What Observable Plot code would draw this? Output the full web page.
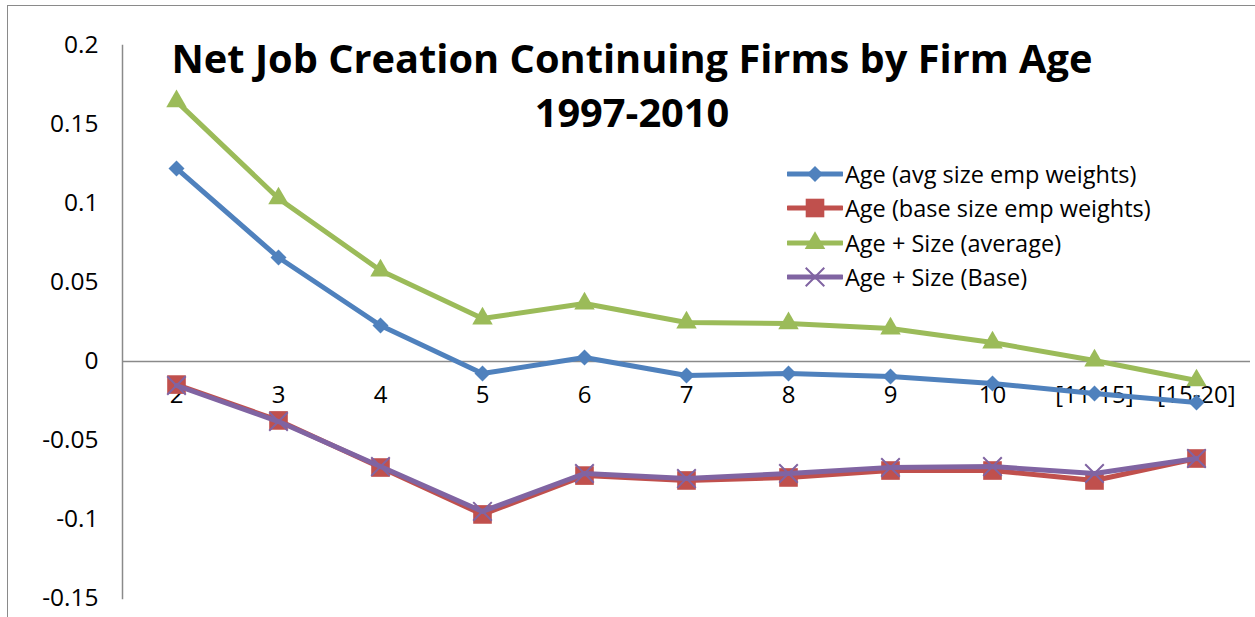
<!DOCTYPE html>
<html>
<head>
<meta charset="utf-8">
<script src="https://cdn.jsdelivr.net/npm/d3@7"></script>
<script src="https://cdn.jsdelivr.net/npm/@observablehq/plot@0.6"></script>
<style>
  html, body { margin: 0; padding: 0; background: #fff; }
  #wrap { position: relative; width: 1255px; height: 617px; overflow: hidden; font-family: "Open Sans", Lato, sans-serif; }
  #border { position: absolute; left: 7px; top: 5px; width: 1300px; height: 700px; border: 1.5px solid #8a8a8a; box-sizing: border-box; }
  #chart { position: absolute; left: 0; top: 0; }
  #title { position: absolute; left: 132px; width: 1000px; top: 31px; text-align: center; font-weight: 700; font-size: 36px; line-height: 54px; color: #000; white-space: nowrap; }
  #legend { position: absolute; left: 787px; top: 157px; }
  .row { display: flex; align-items: center; height: 34.3px; font-size: 23.5px; color: #000; }
  .row svg { margin-right: 2px; }
</style>
</head>
<body>
<div id="wrap">
  <div id="border"></div>
  <div id="chart"></div>
  <div id="title"><span id="t1">Net Job Creation Continuing Firms by Firm Age</span><br>1997-2010</div>
  <div id="legend"></div>
</div>
<script>
const categories = ["2", "3", "4", "5", "6", "7", "8", "9", "10", "[11-15]", "[15-20]"];
const seriesNames = ["Age (avg size emp weights)", "Age (base size emp weights)", "Age + Size (average)", "Age + Size (Base)"];
const ageAvg   = [0.1222, 0.0658, 0.0228, -0.0076, 0.0025, -0.0089, -0.0076, -0.0095, -0.0139, -0.0203, -0.0259];
const ageBase  = [-0.0146, -0.0373, -0.0671, -0.0968, -0.0722, -0.0753, -0.0734, -0.0690, -0.0690, -0.0753, -0.0614];
const sizeAvg  = [0.1646, 0.1032, 0.0576, 0.0272, 0.0367, 0.0247, 0.0241, 0.0209, 0.0120, 0.0006, -0.0120];
const sizeBase = [-0.0152, -0.0380, -0.0665, -0.0949, -0.0709, -0.0741, -0.0709, -0.0671, -0.0665, -0.0709, -0.0614];
const yTicks = [0.2, 0.15, 0.1, 0.05, 0, -0.05, -0.1, -0.15];
const yTickLabels = ["0.2", "0.15", "0.1", "0.05", "0", "-0.05", "-0.1", "-0.15"];

const colors = ["#4F81BD", "#C0504D", "#9BBB59", "#8064A2"];
const symbols = ["diamond2", "square", "triangle", "times"];
const radii = [7.2, 10.5, 7.6, 8.5];
const allValues = [ageAvg, ageBase, sizeAvg, sizeBase];

const rows = [];
allValues.forEach((vals, s) => vals.forEach((v, i) => rows.push({series: seriesNames[s], s, cat: categories[i], value: v})));

const marks = [
  Plot.ruleY([0], {stroke: "#8a8a8a", strokeWidth: 1.5}),
  Plot.frame({anchor: "left", stroke: "#8a8a8a", strokeWidth: 1.5}),
  Plot.axisY({ticks: yTicks, tickFormat: d => yTickLabels[yTicks.indexOf(d)], tickSize: 0, tickPadding: 24, fontSize: 24.5, label: null}),
  Plot.text(categories, {x: d => d, y: 0, dy: 34, text: d => d, fontSize: 24, fill: "#000"})
];
[0, 1, 2, 3].forEach(s => {
  const data = rows.filter(r => r.s === s);
  marks.push(Plot.line(data, {x: "cat", y: "value", stroke: colors[s], strokeWidth: 5, strokeLinejoin: "round"}));
  if (s === 3) {
    marks.push(Plot.dot(data, {x: "cat", y: "value", symbol: "times", r: radii[s], stroke: colors[s], strokeWidth: 2}));
  } else {
    marks.push(Plot.dot(data, {x: "cat", y: "value", symbol: symbols[s], r: radii[s], fill: colors[s], stroke: "none"}));
  }
});

const chart = Plot.plot({
  width: 1255,
  height: 617,
  marginLeft: 122,
  marginRight: 5,
  marginTop: 45,
  marginBottom: 19,
  style: {fontFamily: "'Open Sans', Lato, sans-serif", fontSize: "24px", color: "#000", background: "transparent"},
  x: {type: "point", domain: categories, padding: 0.5, axis: null},
  y: {domain: [-0.15, 0.2], axis: null},
  marks
});
document.getElementById("chart").appendChild(chart);

// fit title first line to the reference width (921px)
const t1 = document.getElementById("t1");
const w = t1.getBoundingClientRect().width;
if (w > 0) document.getElementById("title").style.fontSize = (36 * 921 / w).toFixed(2) + "px";

// legend
const legend = d3.select("#legend");
seriesNames.forEach((name, s) => {
  const row = legend.append("div").attr("class", "row");
  const svg = row.append("svg").attr("width", 56).attr("height", 24);
  svg.append("line").attr("x1", 1).attr("x2", 55).attr("y1", 12).attr("y2", 12)
    .attr("stroke", colors[s]).attr("stroke-width", 5).attr("stroke-linecap", "round");
  const symMap = {diamond2: d3.symbolDiamond2, square: d3.symbolSquare, triangle: d3.symbolTriangle, times: d3.symbolTimes};
  const path = d3.symbol(symMap[symbols[s]], Math.PI * radii[s] * radii[s])();
  const p = svg.append("path").attr("d", path).attr("transform", "translate(28,12)");
  if (s === 3) p.attr("fill", "none").attr("stroke", colors[s]).attr("stroke-width", 2);
  else p.attr("fill", colors[s]);
  row.append("span").text(name);
});
</script>
</body>
</html>
